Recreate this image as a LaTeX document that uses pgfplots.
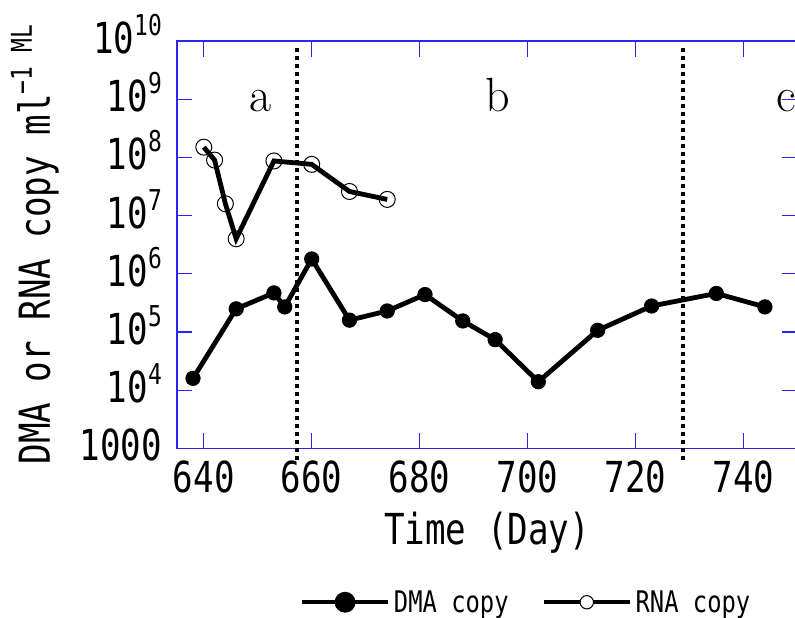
\documentclass[border=0pt]{standalone}
\usepackage{pgfplots}
\pgfplotsset{compat=1.18}
\usepackage{fontspec}
\newfontfamily\gothic[FakeStretch=0.8]{DejaVu Sans Mono}
\definecolor{axblue}{RGB}{40,40,235}
\newcommand\mainf{\gothic\fontsize{32}{36}\selectfont}
\newcommand\legf{\gothic\fontsize{22.3}{26}\selectfont}
\newcommand\sups[1]{\raisebox{13.5pt}{\gothic\fontsize{21.5}{24}\selectfont #1}}
\newcommand\abcf{\fontsize{36}{40}\selectfont}

\begin{document}
\begin{tikzpicture}
\path[use as bounding box] (-132.5pt,-126.75pt) rectangle (463.2pt,336pt);
\begin{axis}[
    scale only axis,
    width=464.9pt, height=305.25pt,
    xmin=635, xmax=750,
    ymode=log, ymin=1000, ymax=1e10,
    clip=false,
    axis line style={axblue, line width=1.1pt},
    every tick/.style={axblue, line width=0.9pt},
    major tick length=11.7pt,
    yminorticks=false, xminorticks=false,
    xtick={640,660,680,700,720,740},
    xticklabels={640,660,680,700,720,740},
    ytick={1e3,1e4,1e5,1e6,1e7,1e8,1e9,1e10},
    yticklabels={1000,10\sups{4},10\sups{5},10\sups{6},10\sups{7},10\sups{8},10\sups{9},10\sups{10}},
    xticklabel style={font=\mainf, anchor=north, inner sep=0pt, yshift=-9pt},
    yticklabel style={font=\mainf, anchor=base east, inner sep=0pt, xshift=-11pt, yshift=-9.4pt},
    xlabel={Time (Day)},
    xlabel style={font=\mainf, at={(axis description cs:0.5,-0.1565)}, anchor=north, inner sep=0pt},
    ylabel={DMA or RNA copy ml\sups{−1 ML}},
    ylabel style={font=\mainf, at={(axis description cs:-0.19,0.5)}, anchor=south, inner sep=0pt},
    legend columns=2,
    legend style={draw=none, fill=none, inner sep=0pt, outer sep=0pt, font=\legf,
        at={(axis description cs:0.1989,-0.3776)}, anchor=west,
        nodes={inner sep=0pt},
        /tikz/every odd column/.append style={column sep=3pt},
        /tikz/every even column/.append style={column sep=25pt}},
]
% DMA copy
\addplot[black, line width=3.6pt, mark=*, mark size=5.4pt, mark options={solid, line width=0.6pt},
    legend image code/.code={\draw[black, line width=3.2pt] (0pt,0pt) -- (64pt,0pt); \fill[black] (32pt,0pt) circle (6pt);}]
    coordinates {
    (638,1.6e4) (646,2.5e5) (653,4.7e5) (655,2.7e5) (660,1.8e6)
    (667,1.6e5) (674,2.3e5) (681,4.4e5) (688,1.55e5) (694,7.4e4)
    (702,1.4e4) (713,1.07e5) (723,2.8e5) (735,4.6e5) (744,2.7e5)
};
\addlegendentry{DMA copy}
% RNA copy
\addplot[black, line width=3.6pt, mark=o, mark size=6pt, mark options={solid, line width=0.75pt, fill=none},
    legend image code/.code={\draw[black, line width=3.2pt] (0pt,0pt) -- (64pt,0pt); \draw[black, line width=0.75pt, fill=white] (32pt,0pt) circle (5pt);}]
    coordinates {
    (640,1.5e8) (642,9e7) (644,1.6e7) (646,4e6) (653,8.7e7)
    (660,7.6e7) (667,2.6e7) (674,1.9e7)
};
\addlegendentry{RNA copy}
% phase boundaries
\draw[black, line width=3pt, dash pattern=on 3pt off 3pt] (axis cs:657.3,620) -- (axis cs:657.3,7.6e9);
\draw[black, line width=3pt, dash pattern=on 3pt off 3pt] (axis cs:728.8,620) -- (axis cs:728.8,7.6e9);
\node[font=\abcf, anchor=base] at (axis cs:650.5,6.2e8) {a};
\node[font=\abcf, anchor=base] at (axis cs:694.5,6.2e8) {b};
\node[font=\abcf, anchor=base] at (axis cs:748,6.2e8) {c};
\end{axis}
\end{tikzpicture}
\end{document}
